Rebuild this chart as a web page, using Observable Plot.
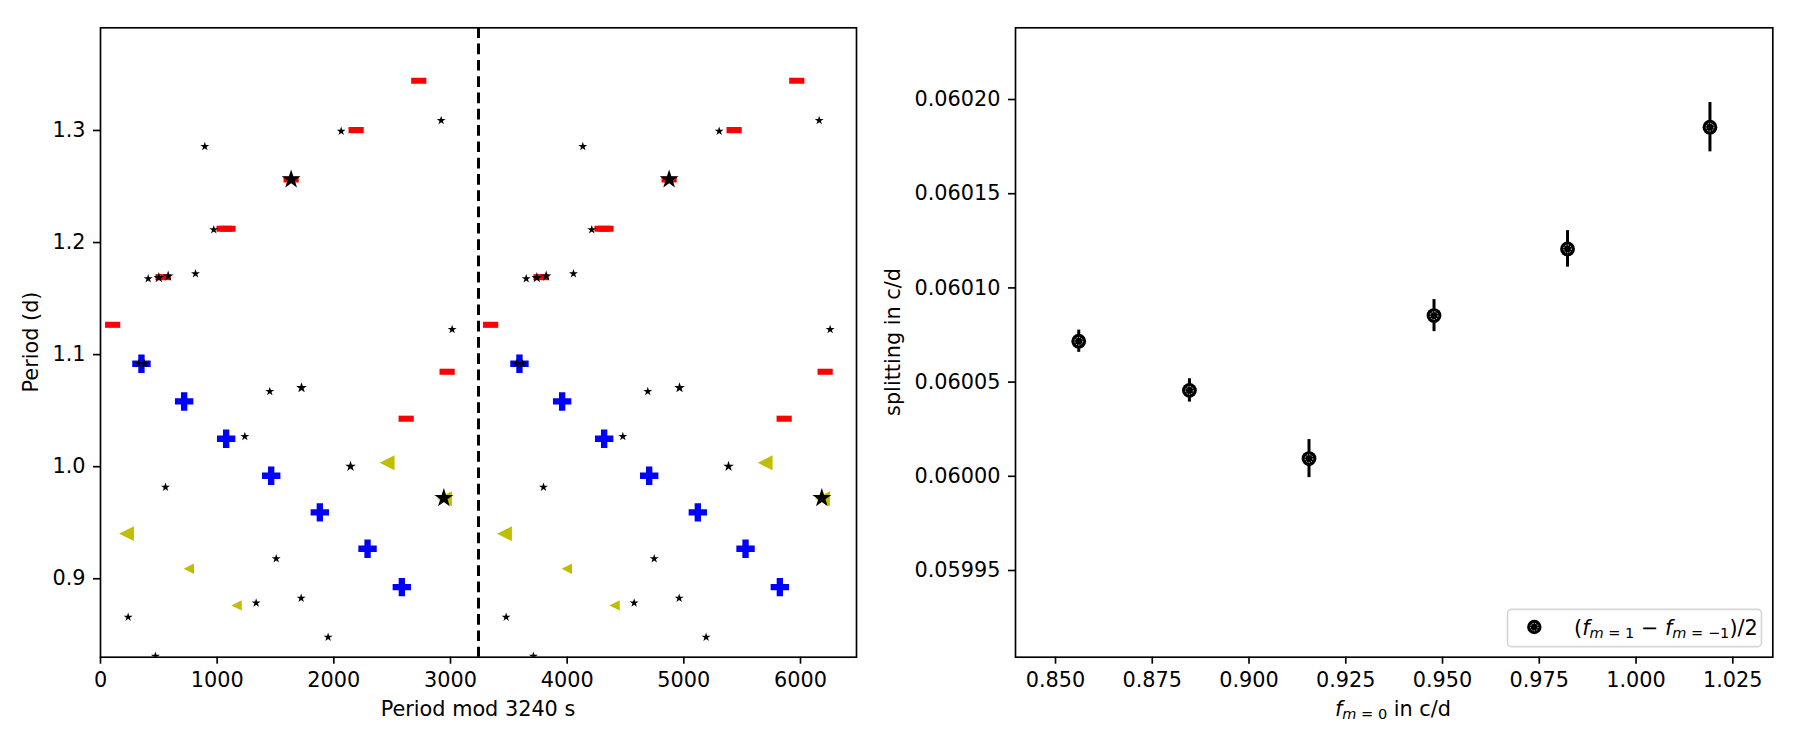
<!DOCTYPE html>
<html>
<head>
<meta charset="utf-8">
<script src="https://cdn.jsdelivr.net/npm/d3@7"></script>
<script src="https://cdn.jsdelivr.net/npm/@observablehq/plot@0.6"></script>
<style>
  body { margin: 0; background: #fff; }
  #c { position: relative; width: 1800px; height: 750px; font-family: "DejaVu Sans", sans-serif; }
  #c > svg { position: absolute; top: 0; }
</style>
</head>
<body>
<div id="c"></div>
<script>
// ---------------- data: left panel (period echelle diagram) ----------------
const MOD = 3240;
// red horizontal bars
const redMod    = [104, 536, 1059, 1093, 1634, 2191, 2728, 2971, 2620];
const redPeriod = [1.1266, 1.1691, 1.2123, 1.2123, 1.2563, 1.3003, 1.3443, 1.0847, 1.0428];
// blue crosses
const blueMod    = [351, 717, 1077, 1463, 1880, 2289, 2583];
const bluePeriod = [1.0918, 1.0582, 1.0249, 0.9919, 0.9592, 0.9268, 0.8925];
// yellow left triangles (class 1 = small, 2 = big)
const yelMod    = [223, 757, 1166, 2457, 2949];
const yelPeriod = [0.9402, 0.9089, 0.8762, 1.0035, 0.9714];
const yelClass  = [2, 1, 1, 2, 2];
// black stars (class 1 = small, 2 = medium, 3 = large)
const starMod    = [327, 377, 409, 500, 580, 814, 894, 971, 1634, 2063, 2920, 3014,
                    1451, 1723, 1237, 2143, 557, 2943, 1506, 1334, 1720, 237, 1951, 471];
const starPeriod = [1.0918, 1.0918, 1.1677, 1.1686, 1.1700, 1.1721, 1.2857, 1.2114, 1.2563, 1.2994, 1.3089, 1.1224,
                    1.0671, 1.0704, 1.0270, 1.0002, 0.9817, 0.9720, 0.9178, 0.8783, 0.8827, 0.8658, 0.8479, 0.8310];
const starClass  = [1, 1, 1, 2, 2, 1, 1, 1, 3, 1, 1, 1,
                    1, 2, 1, 2, 1, 3, 1, 1, 1, 1, 1, 1];
const leftXTicks = [0, 1000, 2000, 3000, 4000, 5000, 6000];
const leftYTicks = [0.9, 1.0, 1.1, 1.2, 1.3];

// ---------------- data: right panel (splitting) ----------------
const fm0      = [0.8560, 0.8846, 0.9155, 0.9478, 0.9823, 1.0191];
const split    = [0.0600717, 0.0600456, 0.0600094, 0.0600853, 0.0601207, 0.0601853];
const splitErr = [0.0000059, 0.0000062, 0.0000101, 0.0000085, 0.0000097, 0.0000131];
const rightXTicks = [0.850, 0.875, 0.900, 0.925, 0.950, 0.975, 1.000, 1.025];
const rightYTicks = [0.05995, 0.06000, 0.06005, 0.06010, 0.06015, 0.06020];

// ---------------- symbols ----------------
const sym = f => ({ draw(ctx, size) { f(ctx, Math.sqrt(size / Math.PI)); } });
const starSym = sym((c, R) => {
  const ri = R * 0.382;
  for (let i = 0; i < 10; i++) {
    const a = -Math.PI / 2 + i * Math.PI / 5, rr = i % 2 ? ri : R;
    const x = rr * Math.cos(a), y = rr * Math.sin(a);
    i ? c.lineTo(x, y) : c.moveTo(x, y);
  }
  c.closePath();
});
const barSym = sym((c, R) => {
  const h = R * 0.4;
  c.moveTo(-R, -h); c.lineTo(R, -h); c.lineTo(R, h); c.lineTo(-R, h); c.closePath();
});
const plusSym = sym((c, R) => {
  const t = R * 0.345;
  c.moveTo(-t, -R); c.lineTo(t, -R); c.lineTo(t, -t); c.lineTo(R, -t); c.lineTo(R, t);
  c.lineTo(t, t); c.lineTo(t, R); c.lineTo(-t, R); c.lineTo(-t, t); c.lineTo(-R, t);
  c.lineTo(-R, -t); c.lineTo(-t, -t); c.closePath();
});
const triLeft = sym((c, R) => {
  c.moveTo(-R, 0); c.lineTo(R, -R); c.lineTo(R, R); c.closePath();
});

// rows, each value shown at mod and mod + 3240
const dup = (mods, periods, cls) => mods.flatMap((m, i) => [0, MOD].map(s => ({
  x: m + s, y: periods[i], c: cls ? cls[i] : 1
})));
const redRows = dup(redMod, redPeriod);
const blueRows = dup(blueMod, bluePeriod);
const yelRows = dup(yelMod, yelPeriod, yelClass);
const starRows = dup(starMod, starPeriod, starClass);

const FS = 20.8;
const common = {
  style: { fontFamily: '"DejaVu Sans", sans-serif', fontSize: FS + "px", color: "#000", background: "transparent", overflow: "visible" }
};
const yelR = { 1: 5.2, 2: 7.4 };
const starR = { 1: 4.7, 2: 5.6, 3: 10 };

const left = Plot.plot({
  ...common,
  width: 900, height: 750,
  marginLeft: 100, marginRight: 44, marginTop: 27.3, marginBottom: 93.3,
  x: { domain: [0, 2 * MOD] },
  y: { domain: [0.830, 1.3916] },
  marks: [
    Plot.ruleX([MOD], { stroke: "#000", strokeWidth: 3, strokeDasharray: "10.7,5.6" }),
    Plot.dot(redRows, { x: "x", y: "y", symbol: barSym, r: 7.6, fill: "#ff0000", stroke: "none", clip: true }),
    Plot.dot(blueRows, { x: "x", y: "y", symbol: plusSym, r: 9.2, fill: "#0000ff", stroke: "none", clip: true }),
    ...[1, 2].map(k => Plot.dot(yelRows, { filter: d => d.c === k, x: "x", y: "y", symbol: triLeft, r: yelR[k], fill: "#bfbf00", stroke: "none", clip: true })),
    ...[1, 2, 3].map(k => Plot.dot(starRows, { filter: d => d.c === k, x: "x", y: "y", symbol: starSym, r: starR[k], fill: "#000", stroke: "none", clip: true })),
    Plot.frame({ stroke: "#000", strokeWidth: 1.67 }),
    Plot.axisX({ ticks: leftXTicks, tickFormat: d => String(d), tickSize: 7, tickPadding: 8, strokeWidth: 1.67, label: null, fontSize: FS }),
    Plot.axisY({ ticks: leftYTicks, tickFormat: d3.format(".1f"), tickSize: 7, tickPadding: 8, strokeWidth: 1.67, label: null, fontSize: FS })
  ]
});
left.style.left = "0px";

const rightRows = fm0.map((f, i) => ({ f, s: split[i], e: splitErr[i] }));
const right = Plot.plot({
  ...common,
  width: 900, height: 750,
  marginLeft: 115, marginRight: 27.7, marginTop: 27.3, marginBottom: 93.3,
  x: { domain: [0.83966, 1.03534] },
  y: { domain: [0.05990398, 0.06023806] },
  marks: [
    Plot.ruleX(rightRows, { x: "f", y1: d => d.s - d.e, y2: d => d.s + d.e, stroke: "#000", strokeWidth: 3 }),
    Plot.dot(rightRows, { x: "f", y: "s", r: 7.4, fill: "#000", stroke: "none" }),
    Plot.dot(rightRows, { x: "f", y: "s", r: 3.9, fill: "none", stroke: "#fff", strokeWidth: 0.9, strokeDasharray: "1.2,1.4" }),
    Plot.frame({ stroke: "#000", strokeWidth: 1.67 }),
    Plot.axisX({ ticks: rightXTicks, tickFormat: d3.format(".3f"), tickSize: 7, tickPadding: 8, strokeWidth: 1.67, label: null, fontSize: FS }),
    Plot.axisY({ ticks: rightYTicks, tickFormat: d3.format(".5f"), tickSize: 7, tickPadding: 8, strokeWidth: 1.67, label: null, fontSize: FS })
  ]
});
right.style.left = "900px";

const c = document.getElementById("c");
c.appendChild(left);
c.appendChild(right);

// ---------------- labels & legend overlay ----------------
const SUB = (FS * 0.7).toFixed(2);
const overlay = `
<svg width="1800" height="750" style="left:0;pointer-events:none" font-family="DejaVu Sans, sans-serif" font-size="${FS}" fill="#000">
  <text transform="translate(37.5,342) rotate(-90)" text-anchor="middle">Period (d)</text>
  <text x="478" y="715.7" text-anchor="middle">Period mod 3240 s</text>
  <text transform="translate(900,342) rotate(-90)" text-anchor="middle">splitting in c/d</text>
  <text x="1393" y="715.5" text-anchor="middle"><tspan font-style="italic">f</tspan><tspan font-size="${SUB}" dy="3.3"><tspan font-style="italic">m</tspan> = 0</tspan><tspan dy="-3.3"> in c/d</tspan></text>
  <rect x="1507.5" y="609.3" width="254" height="37.4" rx="4" ry="4" fill="#fff" stroke="#d6d6d6" stroke-width="1.67"/>
  <circle cx="1534.3" cy="627" r="7.2" fill="#000"/>
  <circle cx="1534.3" cy="627" r="3.8" fill="none" stroke="#fff" stroke-width="0.9" stroke-dasharray="1.2,1.4"/>
  <text x="1574" y="634.5">(<tspan font-style="italic">f</tspan><tspan font-size="${SUB}" dy="3.3"><tspan font-style="italic">m</tspan> = 1</tspan><tspan dy="-3.3"> − </tspan><tspan font-style="italic">f</tspan><tspan font-size="${SUB}" dy="3.3"><tspan font-style="italic">m</tspan> = −1</tspan><tspan dy="-3.3">)/2</tspan></text>
</svg>`;
c.insertAdjacentHTML("beforeend", overlay);
</script>
</body>
</html>
